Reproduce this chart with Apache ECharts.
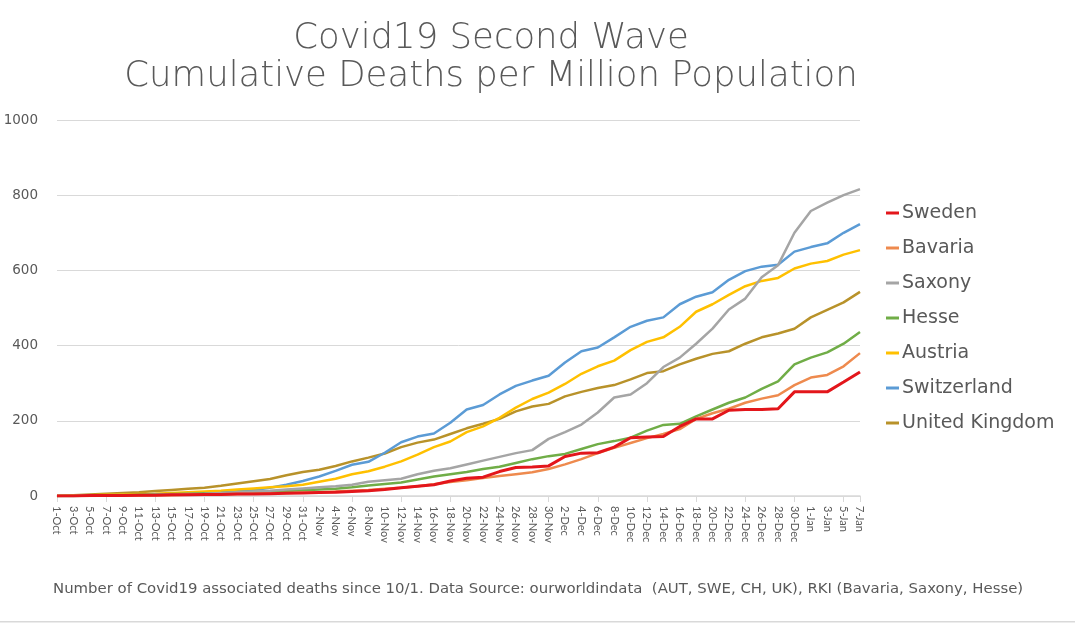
<!DOCTYPE html>
<html>
<head>
<meta charset="utf-8">
<title>Covid19 Second Wave</title>
<script src="https://cdn.jsdelivr.net/npm/echarts@6/dist/echarts.min.js"></script>
<style>
  html, body { margin: 0; padding: 0; background: #fff; }
  #chart { width: 1075px; height: 625px; }
</style>
</head>
<body>
<div id="chart"></div>
<script>
// every second day, 1-Oct .. 7-Jan
const dates = [
  '1-Oct','3-Oct','5-Oct','7-Oct','9-Oct','11-Oct','13-Oct','15-Oct','17-Oct','19-Oct',
  '21-Oct','23-Oct','25-Oct','27-Oct','29-Oct','31-Oct',
  '2-Nov','4-Nov','6-Nov','8-Nov','10-Nov','12-Nov','14-Nov','16-Nov','18-Nov','20-Nov',
  '22-Nov','24-Nov','26-Nov','28-Nov','30-Nov',
  '2-Dec','4-Dec','6-Dec','8-Dec','10-Dec','12-Dec','14-Dec','16-Dec','18-Dec','20-Dec',
  '22-Dec','24-Dec','26-Dec','28-Dec','30-Dec',
  '1-Jan','3-Jan','5-Jan','7-Jan'
];

// cumulative deaths per million
const sweden = [0,0,1,1,1,2,2,3,3,4,4,5,5,6,7,8,9,10,12,14,17,22,26,30,40,47,50,65,76,77,80,105,114,115,130,155,157,158,185,205,205,228,230,230,232,277,277,277,303,330];
const bavaria = [0,0,0,1,1,1,2,2,3,3,4,5,6,7,8,9,10,12,14,16,19,22,26,31,37,42,48,53,58,63,72,84,98,114,128,141,154,165,178,205,220,232,248,259,268,295,315,322,345,380];
const saxony = [0,0,1,1,2,2,3,4,5,6,8,10,12,14,17,20,23,26,30,38,42,46,58,67,74,84,94,104,114,122,152,170,190,222,262,270,300,343,368,405,445,496,525,582,614,700,758,780,800,816];
const hesse = [0,0,1,1,2,3,4,5,6,7,8,10,11,12,13,15,17,19,23,28,32,36,44,52,58,64,72,78,88,98,106,112,125,138,146,155,174,189,192,212,230,248,262,285,305,350,368,382,405,436];
const austria = [0,1,2,3,4,5,6,8,10,12,14,17,20,23,26,30,38,46,58,66,78,92,110,130,145,170,185,208,235,258,275,298,325,345,360,388,410,422,450,490,510,535,558,572,580,605,618,625,642,654];
const switzerland = [0,0,1,2,3,4,5,6,7,9,11,13,16,22,30,40,52,67,83,91,115,143,158,166,195,230,242,270,293,307,320,355,385,395,422,450,466,475,510,530,542,575,598,610,615,650,662,672,700,723];
const uk = [0,2,4,6,8,10,13,16,19,22,27,33,39,45,55,64,70,80,92,102,113,130,142,150,165,180,192,205,225,238,245,265,277,287,295,310,327,332,350,365,378,385,405,422,432,445,475,495,515,543];

const names = ['Sweden','Bavaria','Saxony','Hesse','Austria','Switzerland','United Kingdom'];
const colors = ['#E3161B','#EE8A4E','#A5A5A5','#70AD47','#FFC000','#5B9BD5','#B8922A'];
const values = [sweden, bavaria, saxony, hesse, austria, switzerland, uk];

const textColor = '#595959';
const font = 'DejaVu Sans';
const chart = echarts.init(document.getElementById('chart'));

chart.setOption({
  backgroundColor: '#ffffff',
  animation: false,
  color: colors,
  title: {
    text: 'Covid19 Second Wave\nCumulative Deaths per Million Population',
    left: 486,
    textAlign: 'center',
    top: 15,
    textStyle: {
      fontFamily: font, fontWeight: 200, fontSize: 35.5,
      lineHeight: 38, color: textColor
    }
  },
  legend: {
    orient: 'vertical',
    left: 881, top: 198,
    icon: 'rect', itemWidth: 13, itemHeight: 3, itemGap: 15,
    textStyle: { fontFamily: font, fontSize: 19, lineHeight: 20, color: textColor, padding: [0, 0, 0, -2] },
    data: names
  },
  grid: { left: 57, right: 215, top: 120, bottom: 129 },
  xAxis: {
    type: 'category',
    boundaryGap: false,
    data: dates,
    axisLine: { lineStyle: { color: '#D9D9D9', width: 1.5 } },
    axisTick: { show: true, interval: 2, length: 6, lineStyle: { color: '#D9D9D9' } },
    axisLabel: {
      interval: 0, rotate: -90, margin: 10,
      fontFamily: 'Lato', fontSize: 11, color: textColor
    }
  },
  yAxis: {
    type: 'value',
    min: 0, max: 1000, interval: 200,
    axisLine: { show: false },
    axisTick: { show: false },
    axisLabel: {
      margin: 19, fontFamily: font, fontSize: 13.5, color: textColor,
      formatter: v => String(v)
    },
    splitLine: { lineStyle: { color: '#D9D9D9', width: 1 } }
  },
  graphic: [{
    type: 'text',
    left: 53, top: 582,
    style: {
      text: 'Number of Covid19 associated deaths since 10/1. Data Source: ourworldindata  (AUT, SWE, CH, UK), RKI (Bavaria, Saxony, Hesse)',
      font: '14.9px "DejaVu Sans"',
      fill: textColor
    }
  }, {
    type: 'rect',
    left: 0, top: 621,
    shape: { width: 1075, height: 1.5 },
    style: { fill: '#D9D9D9' }
  }],
  series: names.map((n, i) => ({
    name: n,
    type: 'line',
    data: values[i],
    showSymbol: false,
    lineStyle: { width: i === 0 ? 3 : 2.5, color: colors[i] },
    itemStyle: { color: colors[i] },
    z: 10 - i
  }))
});
</script>
</body>
</html>
